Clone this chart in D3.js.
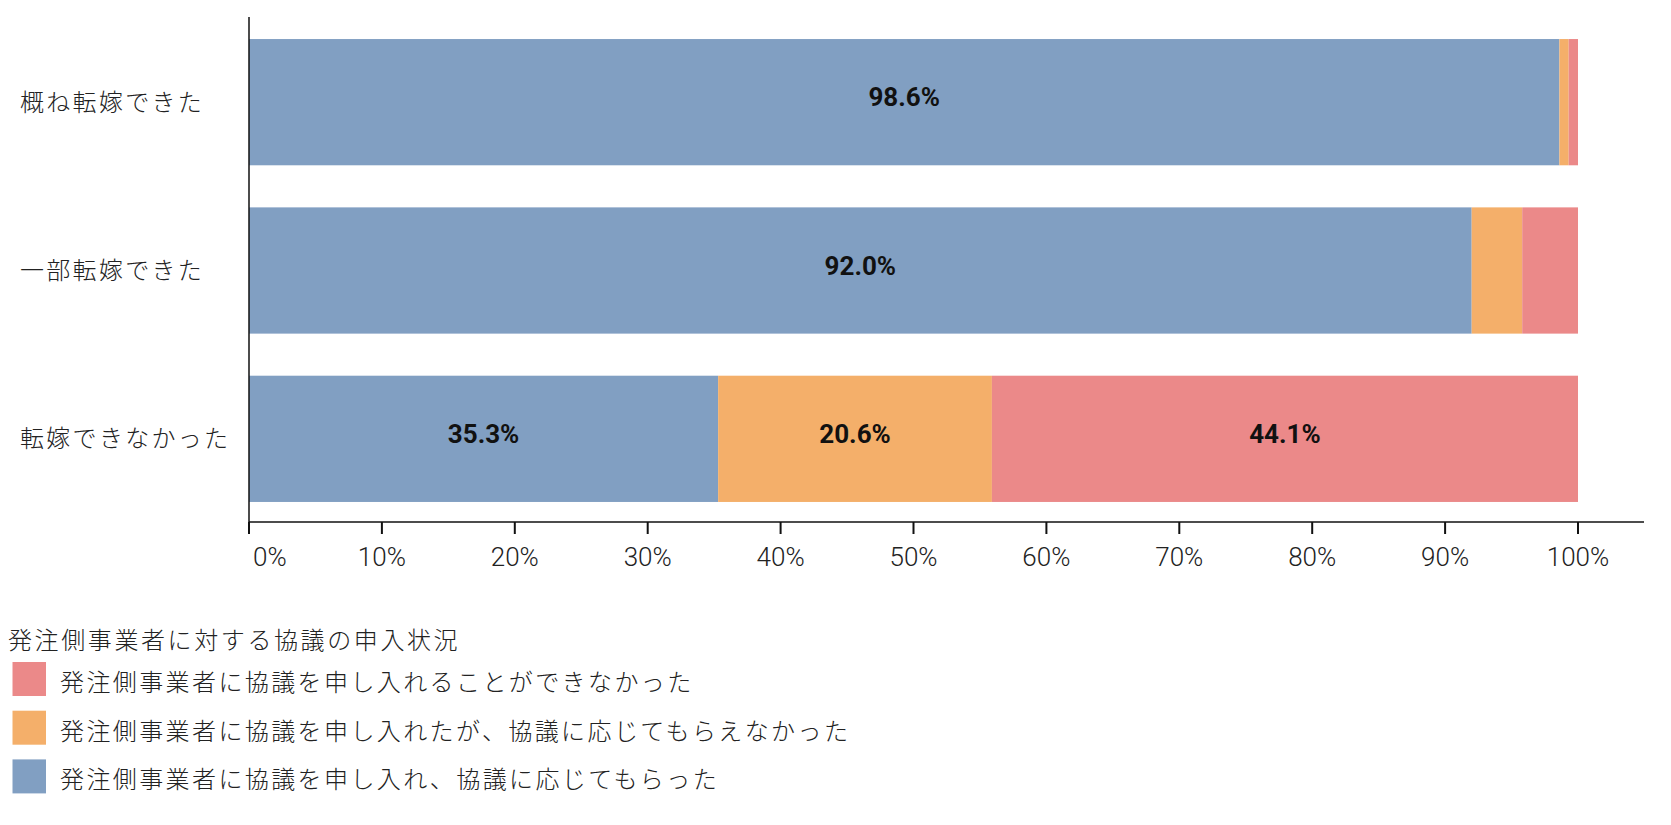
<!DOCTYPE html>
<html>
<head>
<meta charset="utf-8">
<script src="https://cdn.jsdelivr.net/npm/d3@7"></script>
<style>
  html, body { margin: 0; padding: 0; background: #fff; }
  svg { display: block; }
</style>
</head>
<body>
<svg id="chart" width="1671" height="825"></svg>
<script>
const categories = ["概ね転嫁できた", "一部転嫁できた", "転嫁できなかった"];
const seriesNames = [
  "発注側事業者に協議を申し入れ、協議に応じてもらった",
  "発注側事業者に協議を申し入れたが、協議に応じてもらえなかった",
  "発注側事業者に協議を申し入れることができなかった"
];
const acceptedValues = [98.6, 92.0, 35.3];
const refusedValues = [0.7, 3.8, 20.6];
const notProposedValues = [0.7, 4.2, 44.1];
const tickValues = [0, 10, 20, 30, 40, 50, 60, 70, 80, 90, 100];
const tickLabels = ["0%", "10%", "20%", "30%", "40%", "50%", "60%", "70%", "80%", "90%", "100%"];
const legendTitle = "発注側事業者に対する協議の申入状況";
const colors = ["#819FC2", "#F4AF6A", "#EB8989"];

const svg = d3.select("#chart");
const cjk = "'Noto Sans CJK JP', 'Noto Sans', sans-serif";

const x = d3.scaleLinear().domain([0, 100]).range([249, 1578]);
const y = d3.scaleBand().domain(categories).range([18, 523]).paddingInner(0.25).paddingOuter(0.125);

const table = categories.map((c, i) => ({
  cat: c, v0: acceptedValues[i], v1: refusedValues[i], v2: notProposedValues[i]
}));
const stack = d3.stack().keys(["v0", "v1", "v2"]);
const layers = stack(table);

const g = svg.append("g");
layers.forEach((layer, li) => {
  g.selectAll(null).data(layer).enter().append("rect")
    .attr("x", d => x(d[0]))
    .attr("y", d => y(d.data.cat))
    .attr("width", d => x(d[1]) - x(d[0]))
    .attr("height", y.bandwidth())
    .attr("fill", colors[li]);
});

// value labels
layers.forEach((layer) => {
  g.selectAll(null).data(layer.filter(d => d[1] - d[0] >= 5)).enter().append("text")
    .attr("x", d => x((d[0] + d[1]) / 2))
    .attr("y", d => y(d.data.cat) + y.bandwidth() / 2 - 5)
    .attr("text-anchor", "middle")
    .attr("dominant-baseline", "central")
    .attr("font-family", "Roboto, sans-serif")
    .attr("font-weight", "bold")
    .attr("font-size", 26)
    .attr("fill", "#111")
    .text(d => (d[1] - d[0]).toFixed(1) + "%");
});

// axes lines
svg.append("line").attr("x1", 249).attr("x2", 249).attr("y1", 17).attr("y2", 522)
  .attr("stroke", "#111").attr("stroke-width", 1.5);
svg.append("line").attr("x1", 249).attr("x2", 1644).attr("y1", 522).attr("y2", 522)
  .attr("stroke", "#111").attr("stroke-width", 1.5);

// ticks
const xAxis = svg.append("g");
xAxis.selectAll(null).data(tickValues).enter().append("line")
  .attr("x1", d => x(d)).attr("x2", d => x(d))
  .attr("y1", 522).attr("y2", 534)
  .attr("stroke", "#111").attr("stroke-width", 2);
xAxis.selectAll(null).data(tickValues).enter().append("text")
  .attr("x", (d, i) => i === 0 ? x(d) + 4 : x(d))
  .attr("y", 557)
  .attr("text-anchor", (d, i) => i === 0 ? "start" : "middle")
  .attr("dominant-baseline", "central")
  .attr("font-family", "Roboto, sans-serif")
  .attr("font-weight", 300)
  .attr("font-size", 26)
  .attr("fill", "#222")
  .text((d, i) => tickLabels[i]);

// category labels
svg.selectAll(null).data(categories).enter().append("text")
  .attr("x", 20)
  .attr("y", d => y(d) + y.bandwidth() / 2 - 2)
  .attr("dominant-baseline", "central")
  .attr("font-family", cjk)
  .attr("font-weight", 300)
  .attr("font-size", 24)
  .attr("letter-spacing", "2.3px")
  .attr("fill", "#222")
  .text(d => d);

// legend
svg.append("text")
  .attr("x", 8).attr("y", 638)
  .attr("dominant-baseline", "central")
  .attr("font-family", cjk)
  .attr("font-weight", 300)
  .attr("font-size", 24)
  .attr("letter-spacing", "2.6px")
  .attr("fill", "#222")
  .text(legendTitle);

const legendOrder = [2, 1, 0];
const lg = svg.append("g");
legendOrder.forEach((si, k) => {
  const cy = 679 + k * 48.7;
  lg.append("rect")
    .attr("x", 12.5).attr("y", cy - 17)
    .attr("width", 33.5).attr("height", 34)
    .attr("fill", colors[si]);
  lg.append("text")
    .attr("x", 60).attr("y", cy + 1.5)
    .attr("dominant-baseline", "central")
    .attr("font-family", cjk)
    .attr("font-weight", 300)
    .attr("font-size", 24)
    .attr("letter-spacing", "2.4px")
    .attr("fill", "#222")
    .text(seriesNames[si]);
});
</script>
</body>
</html>
